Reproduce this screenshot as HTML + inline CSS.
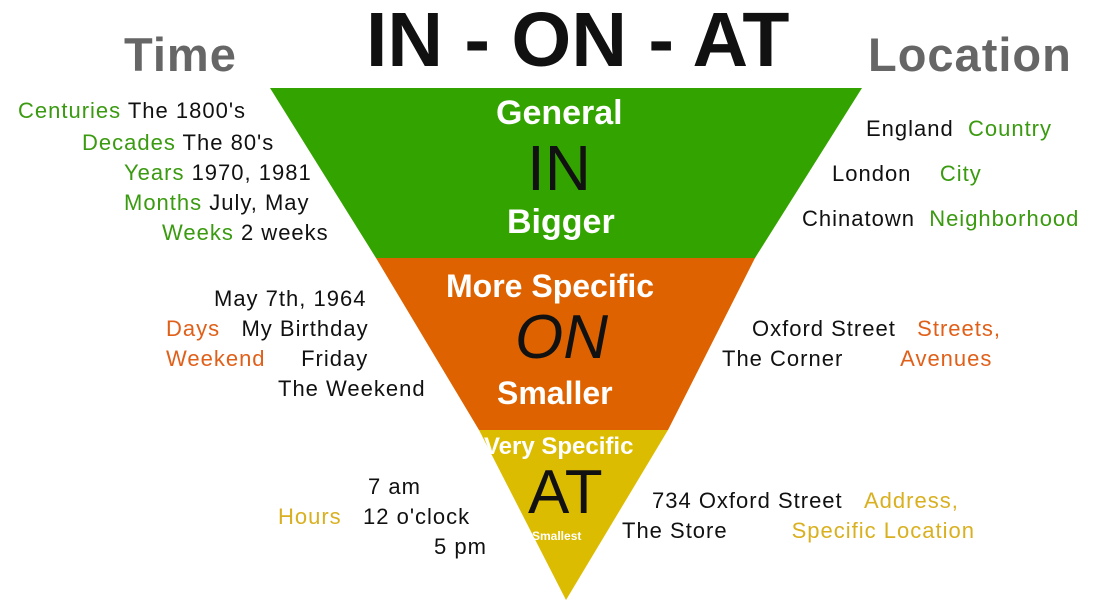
<!DOCTYPE html>
<html><head><meta charset="utf-8"><style>
body{margin:0;width:1102px;height:600px;background:#fff;position:relative;overflow:hidden;font-family:"Liberation Sans",sans-serif}
.t{position:absolute;white-space:nowrap;font-size:22px;color:#111;line-height:1}
.s{letter-spacing:1px}
.g{color:#3a9a10}.o{color:#e0601a}.y{color:#d9b020}
.w{color:#fff;font-weight:bold}
</style></head><body>
<svg width="1102" height="600" style="position:absolute;left:0;top:0">
<polygon points="270,88 862,88 755,258 376,258" fill="#33a300"/>
<polygon points="376,258 755,258 668,430 479,430" fill="#de6300"/>
<polygon points="479,430 668,430 566,600" fill="#dcbc00"/>
</svg>
<div class="t" style="left:366px;top:2px;font-size:77px;font-weight:bold">IN - ON - AT</div>
<div class="t" style="left:124px;top:31px;font-size:47px;font-weight:bold;color:#666;letter-spacing:1px">Time</div>
<div class="t" style="left:868px;top:31px;font-size:47px;font-weight:bold;color:#666;letter-spacing:1px">Location</div>

<div class="t w" style="left:496px;top:96px;font-size:34px">General</div>
<div class="t" style="left:527px;top:136px;font-size:64px">IN</div>
<div class="t w" style="left:507px;top:205px;font-size:34px">Bigger</div>
<div class="t w" style="left:446px;top:270px;font-size:32px">More Specific</div>
<div class="t" style="left:515px;top:307px;font-size:62px;font-style:italic">ON</div>
<div class="t w" style="left:497px;top:377px;font-size:32px">Smaller</div>
<div class="t w" style="left:484px;top:435px;font-size:24px">Very Specific</div>
<div class="t" style="left:528px;top:462px;font-size:62px">AT</div>
<div class="t w" style="left:532px;top:530px;font-size:12px">Smallest</div>

<div class="t s" style="left:18px;top:100px"><span class="g">Centuries</span> The 1800's</div>
<div class="t s" style="left:82px;top:132px"><span class="g">Decades</span> The 80's</div>
<div class="t s" style="left:124px;top:162px"><span class="g">Years</span> 1970, 1981</div>
<div class="t s" style="left:124px;top:192px"><span class="g">Months</span> July, May</div>
<div class="t s" style="left:162px;top:222px"><span class="g">Weeks</span> 2 weeks</div>

<div class="t s" style="left:866px;top:118px">England &nbsp;<span class="g">Country</span></div>
<div class="t s" style="left:832px;top:163px">London &nbsp;&nbsp;&nbsp;<span class="g">City</span></div>
<div class="t s" style="left:802px;top:208px">Chinatown &nbsp;<span class="g">Neighborhood</span></div>

<div class="t s" style="left:214px;top:288px">May 7th, 1964</div>
<div class="t s" style="left:166px;top:318px"><span class="o">Days</span> &nbsp;&nbsp;My Birthday</div>
<div class="t s" style="left:166px;top:348px"><span class="o">Weekend</span> &nbsp;&nbsp;&nbsp;&nbsp;Friday</div>
<div class="t s" style="left:278px;top:378px">The Weekend</div>

<div class="t s" style="left:752px;top:318px">Oxford Street &nbsp;&nbsp;<span class="o">Streets,</span></div>
<div class="t s" style="left:722px;top:348px">The Corner &nbsp;&nbsp;&nbsp;&nbsp;&nbsp;&nbsp;&nbsp;<span class="o">Avenues</span></div>

<div class="t s" style="left:368px;top:476px">7 am</div>
<div class="t s" style="left:278px;top:506px"><span class="y">Hours</span> &nbsp;&nbsp;12 o'clock</div>
<div class="t s" style="left:434px;top:536px">5 pm</div>

<div class="t s" style="left:652px;top:490px">734 Oxford Street &nbsp;&nbsp;<span class="y">Address,</span></div>
<div class="t s" style="left:622px;top:520px">The Store &nbsp;&nbsp;&nbsp;&nbsp;&nbsp;&nbsp;&nbsp;&nbsp;<span class="y">Specific Location</span></div>
</body></html>
